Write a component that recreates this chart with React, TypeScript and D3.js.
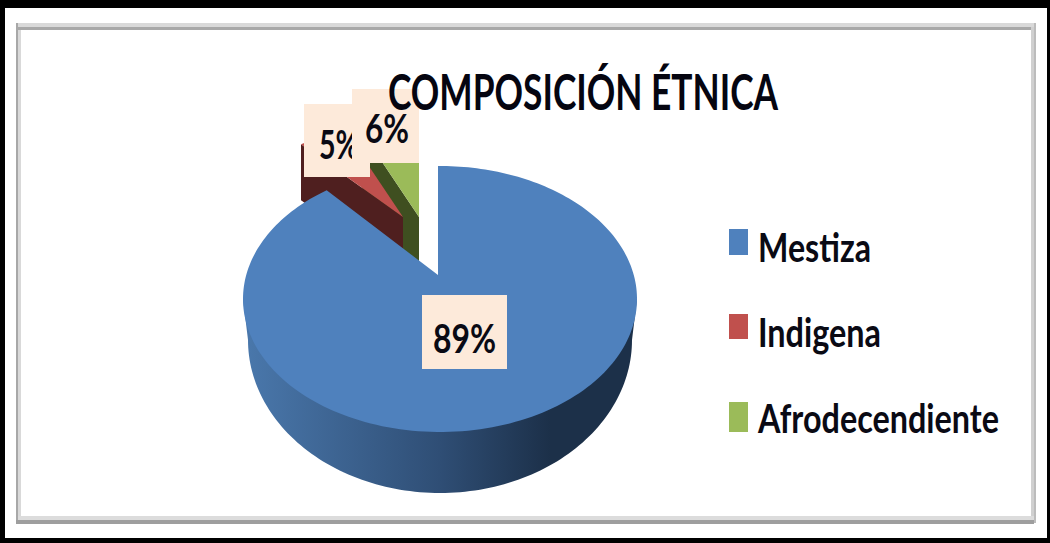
import React from "react";
import * as d3 from "d3";

const categories = ["Mestiza", "Indigena", "Afrodecendiente"];
const values = [89, 5, 6];
const valueLabels = ["89%", "5%", "6%"];
const title = "COMPOSICIÓN ÉTNICA";
const colors = ["#4f81bd", "#c0504d", "#9bbb59"];
const wallColors = ["#2c4a70", "#4f1f1f", "#3f4f20"];

const W = 1050;
const H = 543;

// per-slice projection of the exploded 3D pie
const slices3d = [
  { apex: [438, 275], c: [440, 299], rx: 197, ry: 133, depth: 61, k: 0.63 },
  { apex: [403, 217], c: [406, 250], rx: 197, ry: 125, depth: 56, k: 0.59 },
  { apex: [419, 217], c: [422, 250], rx: 197, ry: 125, depth: 56, k: 0.59 },
];
const labelBoxes = [
  { x: 422, y: 295, w: 85, h: 74, tx: 433, tw: 63, base: 353 },
  { x: 304, y: 104, w: 66, h: 73, tx: 319, tw: 40, base: 159 },
  { x: 352, y: 89, w: 67, h: 74, tx: 365, tw: 44, base: 143 },
];
const legendRows = [
  { y0: 229, y1: 255, base: 262, tw: 113 },
  { y0: 314, y1: 339, base: 347, tw: 123 },
  { y0: 402, y1: 432, base: 433, tw: 241 },
];

type S = (typeof slices3d)[number];

function rim(s: S, a: number): [number, number] {
  // ray from the apex in direction a, hitting the ellipse of the top face
  const dx = Math.sin(a);
  const dy = -Math.cos(a) * s.k;
  const ox = (s.apex[0] - s.c[0]) / s.rx;
  const oy = (s.apex[1] - s.c[1]) / s.ry;
  const ux = dx / s.rx;
  const uy = dy / s.ry;
  const A = ux * ux + uy * uy;
  const B = 2 * (ox * ux + oy * uy);
  const C = ox * ox + oy * oy - 1;
  const t = (-B + Math.sqrt(B * B - 4 * A * C)) / (2 * A);
  return [s.apex[0] + dx * t, s.apex[1] + dy * t];
}

const line = d3.line<[number, number]>().x((d) => d[0]).y((d) => d[1]);

function topFace(s: S, a0: number, a1: number) {
  const n = Math.max(8, Math.ceil((a1 - a0) * 40));
  const angle = d3.scaleLinear().domain([0, n]).range([a0, a1]);
  const pts = d3.range(n + 1).map((i) => rim(s, angle(i)));
  return line([s.apex as [number, number], ...pts]) + "Z";
}

function sideFace(s: S, a: number) {
  const p = rim(s, a);
  return (
    line([
      s.apex as [number, number],
      p,
      [p[0], p[1] + s.depth],
      [s.apex[0], s.apex[1] + s.depth],
    ]) + "Z"
  );
}

// front wall of the large slice, from a wider lower ellipse
function frontWall() {
  const cx = 440, cy = 340, rx = 192, ry = 153;
  const t = d3.scaleLinear().domain([0, 120]).range([0, Math.PI]);
  const lower = d3.range(121).map((i): [number, number] => [
    cx + rx * Math.cos(t(i)),
    cy + ry * Math.sin(t(i)),
  ]);
  const pts: [number, number][] = [[637, 299], ...lower, [243, 299]];
  return line(pts) + "Z";
}

export default function App() {
  const arcs = d3.pie<number>().sort(null).startAngle(0).endAngle(2 * Math.PI)(values);
  const drawOrder = [2, 1];
  const fontFamily = "Lato, 'Open Sans', sans-serif";
  return (
    <svg
      width={W}
      height={H}
      viewBox={`0 0 ${W} ${H}`}
      style={{ position: "absolute", left: 0, top: 0, display: "block", background: "#fff" }}
    >
      <defs>
        <linearGradient id="wall" x1="243" x2="637" y1="0" y2="0" gradientUnits="userSpaceOnUse">
          <stop offset="0" stopColor="#4a78ac" />
          <stop offset="0.5" stopColor="#2f4e75" />
          <stop offset="0.78" stopColor="#1c3049" />
          <stop offset="1" stopColor="#1c3049" />
        </linearGradient>
      </defs>

      {/* page border */}
      <rect x={0} y={0} width={W} height={8} fill="#000" />
      <rect x={0} y={538} width={W} height={5} fill="#000" />
      <rect x={0} y={0} width={5} height={H} fill="#000" />
      <rect x={1047} y={0} width={3} height={H} fill="#000" />

      {/* chart frame */}
      <rect x={16} y={23} width={1020} height={4} fill="#d9d9d9" />
      <rect x={16} y={27} width={1018} height={3} fill="#a8a8a8" />
      <rect x={16} y={23} width={2} height={501} fill="#a8a8a8" />
      <rect x={18} y={30} width={3} height={486} fill="#d9d9d9" />
      <rect x={1031} y={27} width={3} height={493} fill="#d0d0d0" />
      <rect x={1034} y={23} width={2} height={500} fill="#bcbcbc" />
      <rect x={18} y={516} width={1016} height={4} fill="#dcdcdc" />
      <rect x={16} y={520} width={1018} height={4} fill="#9e9e9e" />

      {/* exploded small slices */}
      {drawOrder.map((i) => (
        <g key={categories[i]}>
          <path d={sideFace(slices3d[i], arcs[i].startAngle)} fill={wallColors[i]} />
          <path d={topFace(slices3d[i], arcs[i].startAngle, arcs[i].endAngle)} fill={colors[i]} />
        </g>
      ))}

      {/* large slice */}
      <path d={frontWall()} fill="url(#wall)" />
      <path d={topFace(slices3d[0], arcs[0].startAngle, arcs[0].endAngle)} fill={colors[0]} />

      {/* data labels */}
      {[1, 0, 2].map((i) => {
        const b = labelBoxes[i];
        return (
          <g key={valueLabels[i]}>
            <rect x={b.x} y={b.y} width={b.w} height={b.h} fill="#fdeada" />
            <text
              x={b.tx}
              y={b.base}
              fontFamily={fontFamily}
              fontWeight={700}
              fontSize={41}
              textLength={b.tw}
              lengthAdjust="spacingAndGlyphs"
              fill="#0a0a14"
            >
              {valueLabels[i]}
            </text>
          </g>
        );
      })}

      {/* title */}
      <text
        x={388}
        y={110}
        fontFamily={fontFamily}
        fontWeight={700}
        fontSize={50}
        textLength={390}
        lengthAdjust="spacingAndGlyphs"
        fill="#050510"
      >
        {title}
      </text>

      {/* legend */}
      {categories.map((c, i) => {
        const r = legendRows[i];
        return (
          <g key={c}>
            <rect x={729} y={r.y0} width={19} height={r.y1 - r.y0} fill={colors[i]} />
            <text
              x={758}
              y={r.base}
              fontFamily={fontFamily}
              fontWeight={700}
              fontSize={40}
              textLength={r.tw}
              lengthAdjust="spacingAndGlyphs"
              fill="#0a0a14"
            >
              {c}
            </text>
          </g>
        );
      })}
    </svg>
  );
}
